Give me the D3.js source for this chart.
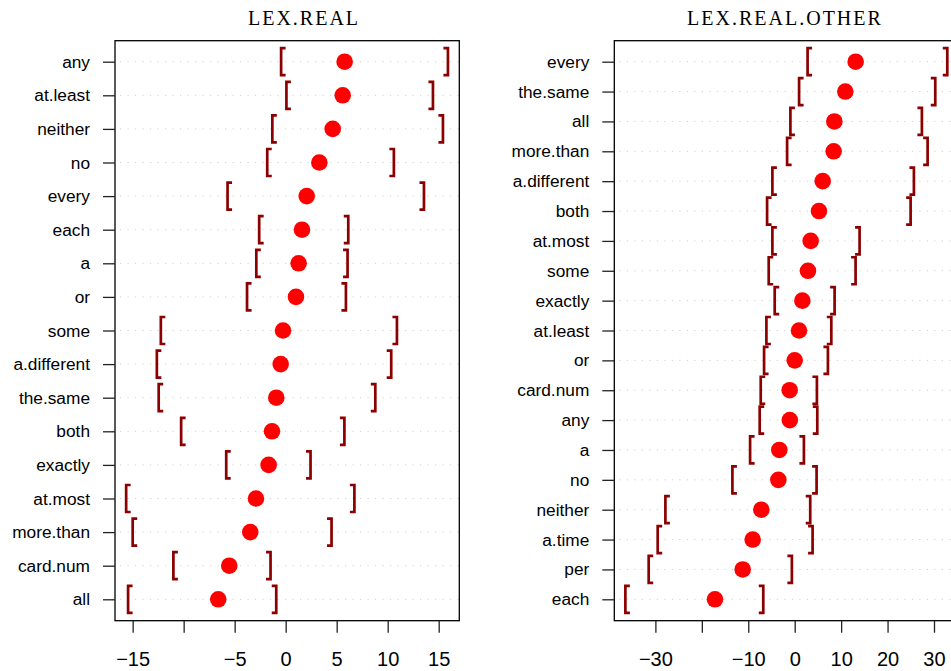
<!DOCTYPE html>
<html>
<head>
<meta charset="utf-8">
<script src="https://cdn.jsdelivr.net/npm/d3@7"></script>
<style>
  body { margin: 0; background: #fff; }
  .title { font-family: "Liberation Serif", "DejaVu Serif", serif; font-size: 20px; letter-spacing: 2px; }
  .axis text { font-family: "Liberation Sans", Arial, sans-serif; fill: #000; }
  .axis line { stroke: #222; stroke-width: 1.3; }
</style>
</head>
<body>
<div id="chart"></div>
<script>
// panel 1 : LEX.REAL  (top to bottom)
const realLabels = ['any','at.least','neither','no','every','each','a','or','some',
  'a.different','the.same','both','exactly','at.most','more.than','card.num','all'];
const realEst  = [5.78, 5.59, 4.61, 3.30, 2.06, 1.60, 1.27, 1.01, -0.26,
  -0.49, -0.92, -1.34, -1.67, -2.91, -3.47, -5.53, -6.61];
const realLow  = [-0.29, 0.23, -1.15, -1.65, -5.54, -2.44, -2.72, -3.63, -12.08,
  -12.47, -12.29, -10.09, -5.67, -15.48, -14.84, -10.85, -15.29];
const realHigh = [15.75, 14.28, 15.26, 10.45, 13.4, 5.98, 5.91, 5.75, 10.75,
  10.19, 8.63, 5.6, 2.28, 6.58, 4.34, -1.64, -1.08];
const realTicks = [-15, -10, -5, 0, 5, 10, 15];
const realTickLabels = ['\u221215', '', '\u22125', '0', '5', '10', '15'];

// panel 2 : LEX.REAL.OTHER (top to bottom)
const otherLabels = ['every','the.same','all','more.than','a.different','both','at.most',
  'some','exactly','at.least','or','card.num','any','a','no','neither','a.time','per','each'];
const otherEst  = [13.13, 10.9, 8.54, 8.39, 6.03, 5.23, 3.44, 2.86, 1.65, 0.93,
  0.0, -1.08, -1.05, -3.31, -3.52, -7.19, -9.05, -11.2, -17.17];
const otherLow  = [3.12, 1.29, -0.58, -1.29, -4.46, -5.6, -4.46, -5.25, -3.96, -5.75,
  -6.25, -6.97, -7.19, -9.26, -13.07, -27.5, -29.16, -31.1, -36.12];
const otherHigh = [32.52, 29.93, 27.05, 28.28, 25.33, 24.62, 13.63, 12.77, 8.25, 7.54,
  6.81, 4.44, 4.52, 1.64, 4.37, 3.0, 3.51, -0.95, -7.11];
const otherTicks = [-30, -20, -10, 0, 10, 20, 30];
const otherTickLabels = ['\u221230', '', '\u221210', '0', '10', '20', '30'];

const W = 951, H = 671;
const svg = d3.select('#chart').append('svg')
  .attr('width', W).attr('height', H);

function dotPanel(opt){
  const g = svg.append('g');
  const [x0, x1] = opt.box, top = 40.7, bottom = 620.7;
  const rows = opt.labels.map((l, i) => ({label: l, est: opt.est[i], lo: opt.low[i], hi: opt.high[i]}));

  const x = d3.scaleLinear(opt.domain, [x0, x1]);
  const y = d3.scalePoint(opt.labels, [61.7, 599.3]);

  // dotted guide lines
  g.selectAll('line.guide').data(rows).join('line')
    .attr('class', 'guide')
    .attr('x1', x0 + 5).attr('x2', x1)
    .attr('y1', d => y(d.label)).attr('y2', d => y(d.label))
    .attr('stroke', '#cfcfcf').attr('stroke-width', 1)
    .attr('stroke-dasharray', '1.2,6.3');

  // brackets for the interval
  const arm = 4.5, half = 13.5, bc = '#8B0000';
  g.selectAll('path.lo').data(rows).join('path')
    .attr('d', d => { const vx = x(d.lo) - 1.6, cy = y(d.label);
      return `M${vx + arm},${cy - half}H${vx}V${cy + half}H${vx + arm}`; })
    .attr('fill', 'none').attr('stroke', bc).attr('stroke-width', 2.7);
  g.selectAll('path.hi').data(rows).join('path')
    .attr('d', d => { const vx = x(d.hi) + 1.6, cy = y(d.label);
      return `M${vx - arm},${cy - half}H${vx}V${cy + half}H${vx - arm}`; })
    .attr('fill', 'none').attr('stroke', bc).attr('stroke-width', 2.7);

  // point estimates
  g.selectAll('circle').data(rows).join('circle')
    .attr('cx', d => x(d.est)).attr('cy', d => y(d.label))
    .attr('r', 8.3).attr('fill', '#ff0000');

  // frame
  g.append('rect').attr('x', x0).attr('y', top)
    .attr('width', x1 - x0).attr('height', bottom - top)
    .attr('fill', 'none').attr('stroke', '#000').attr('stroke-width', 1.3);

  // axes
  const ax = g.append('g').attr('class', 'axis')
    .attr('transform', `translate(0,${bottom})`)
    .call(d3.axisBottom(x).tickValues(opt.ticks)
      .tickFormat((d, i) => opt.tickLabels[i]).tickSize(12).tickPadding(19));
  ax.select('.domain').remove();
  ax.selectAll('text').style('font-size', '20px');

  const ay = g.append('g').attr('class', 'axis')
    .attr('transform', `translate(${x0},0)`)
    .call(d3.axisLeft(y).tickSize(12).tickPadding(13));
  ay.select('.domain').remove();
  ay.selectAll('text').style('font-size', '17.3px');

  g.append('text').attr('class', 'title')
    .attr('x', opt.titleX).attr('y', 25)
    .attr('text-anchor', 'middle').text(opt.title);
}

dotPanel({title: 'LEX.REAL', titleX: 304, box: [115, 459.3], domain: [-16.73, 17.02],
  labels: realLabels, est: realEst, low: realLow, high: realHigh,
  ticks: realTicks, tickLabels: realTickLabels});

dotPanel({title: 'LEX.REAL.OTHER', titleX: 785, box: [614.3, 960], domain: [-38.85, 35.6],
  labels: otherLabels, est: otherEst, low: otherLow, high: otherHigh,
  ticks: otherTicks, tickLabels: otherTickLabels});
</script>
</body>
</html>
